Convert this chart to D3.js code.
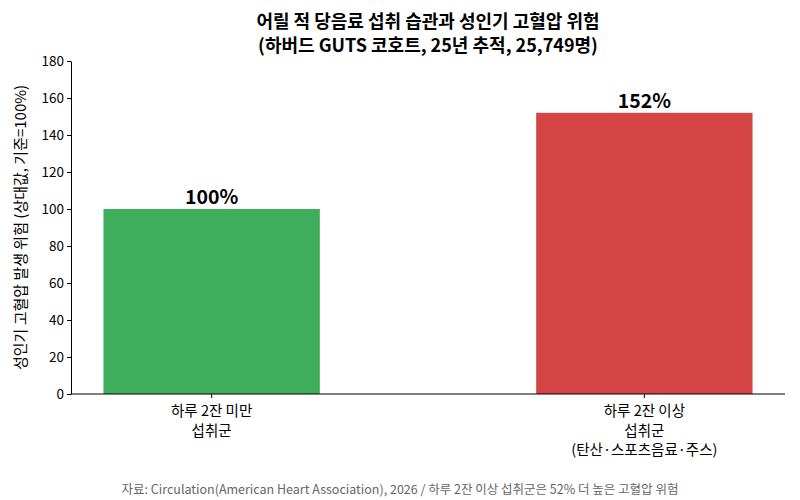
<!DOCTYPE html>
<html>
<head>
<meta charset="utf-8">
<script src="https://cdn.jsdelivr.net/npm/d3@7"></script>
<style>
  body { margin: 0; background: #fff; }
  text { font-family: "Noto Sans CJK KR", "Noto Sans", sans-serif; }
</style>
</head>
<body>
<div id="chart"></div>
<script>
var categories = [["하루 2잔 미만", "섭취군"], ["하루 2잔 이상", "섭취군", "(탄산·스포츠음료·주스)"]];
var values = [100, 152];
var valueLabels = ["100%", "152%"];
var barColors = ["#3fae5c", "#d64545"];
var yTicks = [0, 20, 40, 60, 80, 100, 120, 140, 160, 180];
var titleLines = ["어릴 적 당음료 섭취 습관과 성인기 고혈압 위험", "(하버드 GUTS 코호트, 25년 추적, 25,749명)"];
var yLabel = "성인기 고혈압 발생 위험 (상대값, 기준=100%)";
var footer = "자료: Circulation(American Heart Association), 2026 / 하루 2잔 이상 섭취군은 52% 더 높은 고혈압 위험";

var width = 800, height = 500;
var mLeft = 71, mRight = 785, mTop = 61, mBottom = 394;

var svg = d3.select("#chart").append("svg")
  .attr("width", width)
  .attr("height", height);

var x = d3.scaleBand()
  .domain(d3.range(categories.length))
  .range([mLeft, mRight])
  .paddingInner(0.5)
  .paddingOuter(0.075);

var y = d3.scaleLinear()
  .domain([0, 180])
  .range([mBottom, mTop]);

// bars
svg.selectAll(".bar")
  .data(values)
  .enter().append("rect")
  .attr("x", function(d, i) { return x(i); })
  .attr("y", function(d) { return y(d); })
  .attr("width", x.bandwidth())
  .attr("height", function(d) { return mBottom - y(d); })
  .attr("fill", function(d, i) { return barColors[i]; });

// value labels
svg.selectAll(".val")
  .data(values)
  .enter().append("text")
  .attr("x", function(d, i) { return x(i) + x.bandwidth() / 2; })
  .attr("y", function(d) { return y(d) - 5; })
  .attr("text-anchor", "middle")
  .style("font-size", "19.5px")
  .style("font-weight", "bold")
  .text(function(d, i) { return valueLabels[i]; });

// y axis
var yAxis = svg.append("g")
  .attr("transform", "translate(" + mLeft + ",0)")
  .call(d3.axisLeft(y).tickValues(yTicks).tickSize(4).tickSizeOuter(0));
yAxis.selectAll("text").style("font-size", "13.5px");

// x axis
var xAxis = svg.append("g")
  .attr("transform", "translate(0," + mBottom + ")")
  .call(d3.axisBottom(x).tickSize(4).tickSizeOuter(0).tickFormat(""));
xAxis.selectAll(".tick text").remove();
xAxis.selectAll(".tick").each(function(d) {
  var t = d3.select(this).append("text")
    .attr("fill", "#000")
    .attr("text-anchor", "middle")
    .style("font-size", "14.5px");
  categories[d].forEach(function(line, j) {
    t.append("tspan")
      .attr("x", 0)
      .attr("y", 22 + j * 19.5)
      .text(line);
  });
});
xAxis.select(".domain").attr("d", "M" + mLeft + ",0H" + mRight);

svg.selectAll(".domain").attr("stroke", "#000");
svg.selectAll(".tick line").attr("stroke", "#000");
svg.selectAll(".tick text").attr("fill", "#000");

// title
svg.append("text")
  .attr("text-anchor", "middle")
  .style("font-size", "18px")
  .style("font-weight", "bold")
  .selectAll("tspan")
  .data(titleLines)
  .enter().append("tspan")
  .attr("x", (mLeft + mRight) / 2)
  .attr("y", function(d, i) { return 28 + i * 24; })
  .text(function(d) { return d; });

// y label
svg.append("text")
  .attr("transform", "translate(26," + ((mTop + mBottom) / 2) + ") rotate(-90)")
  .attr("text-anchor", "middle")
  .style("font-size", "15px")
  .text(yLabel);

// footer
svg.append("text")
  .attr("x", width / 2)
  .attr("y", 494)
  .attr("text-anchor", "middle")
  .style("font-size", "12.5px")
  .attr("fill", "#666")
  .text(footer);
</script>
</body>
</html>
